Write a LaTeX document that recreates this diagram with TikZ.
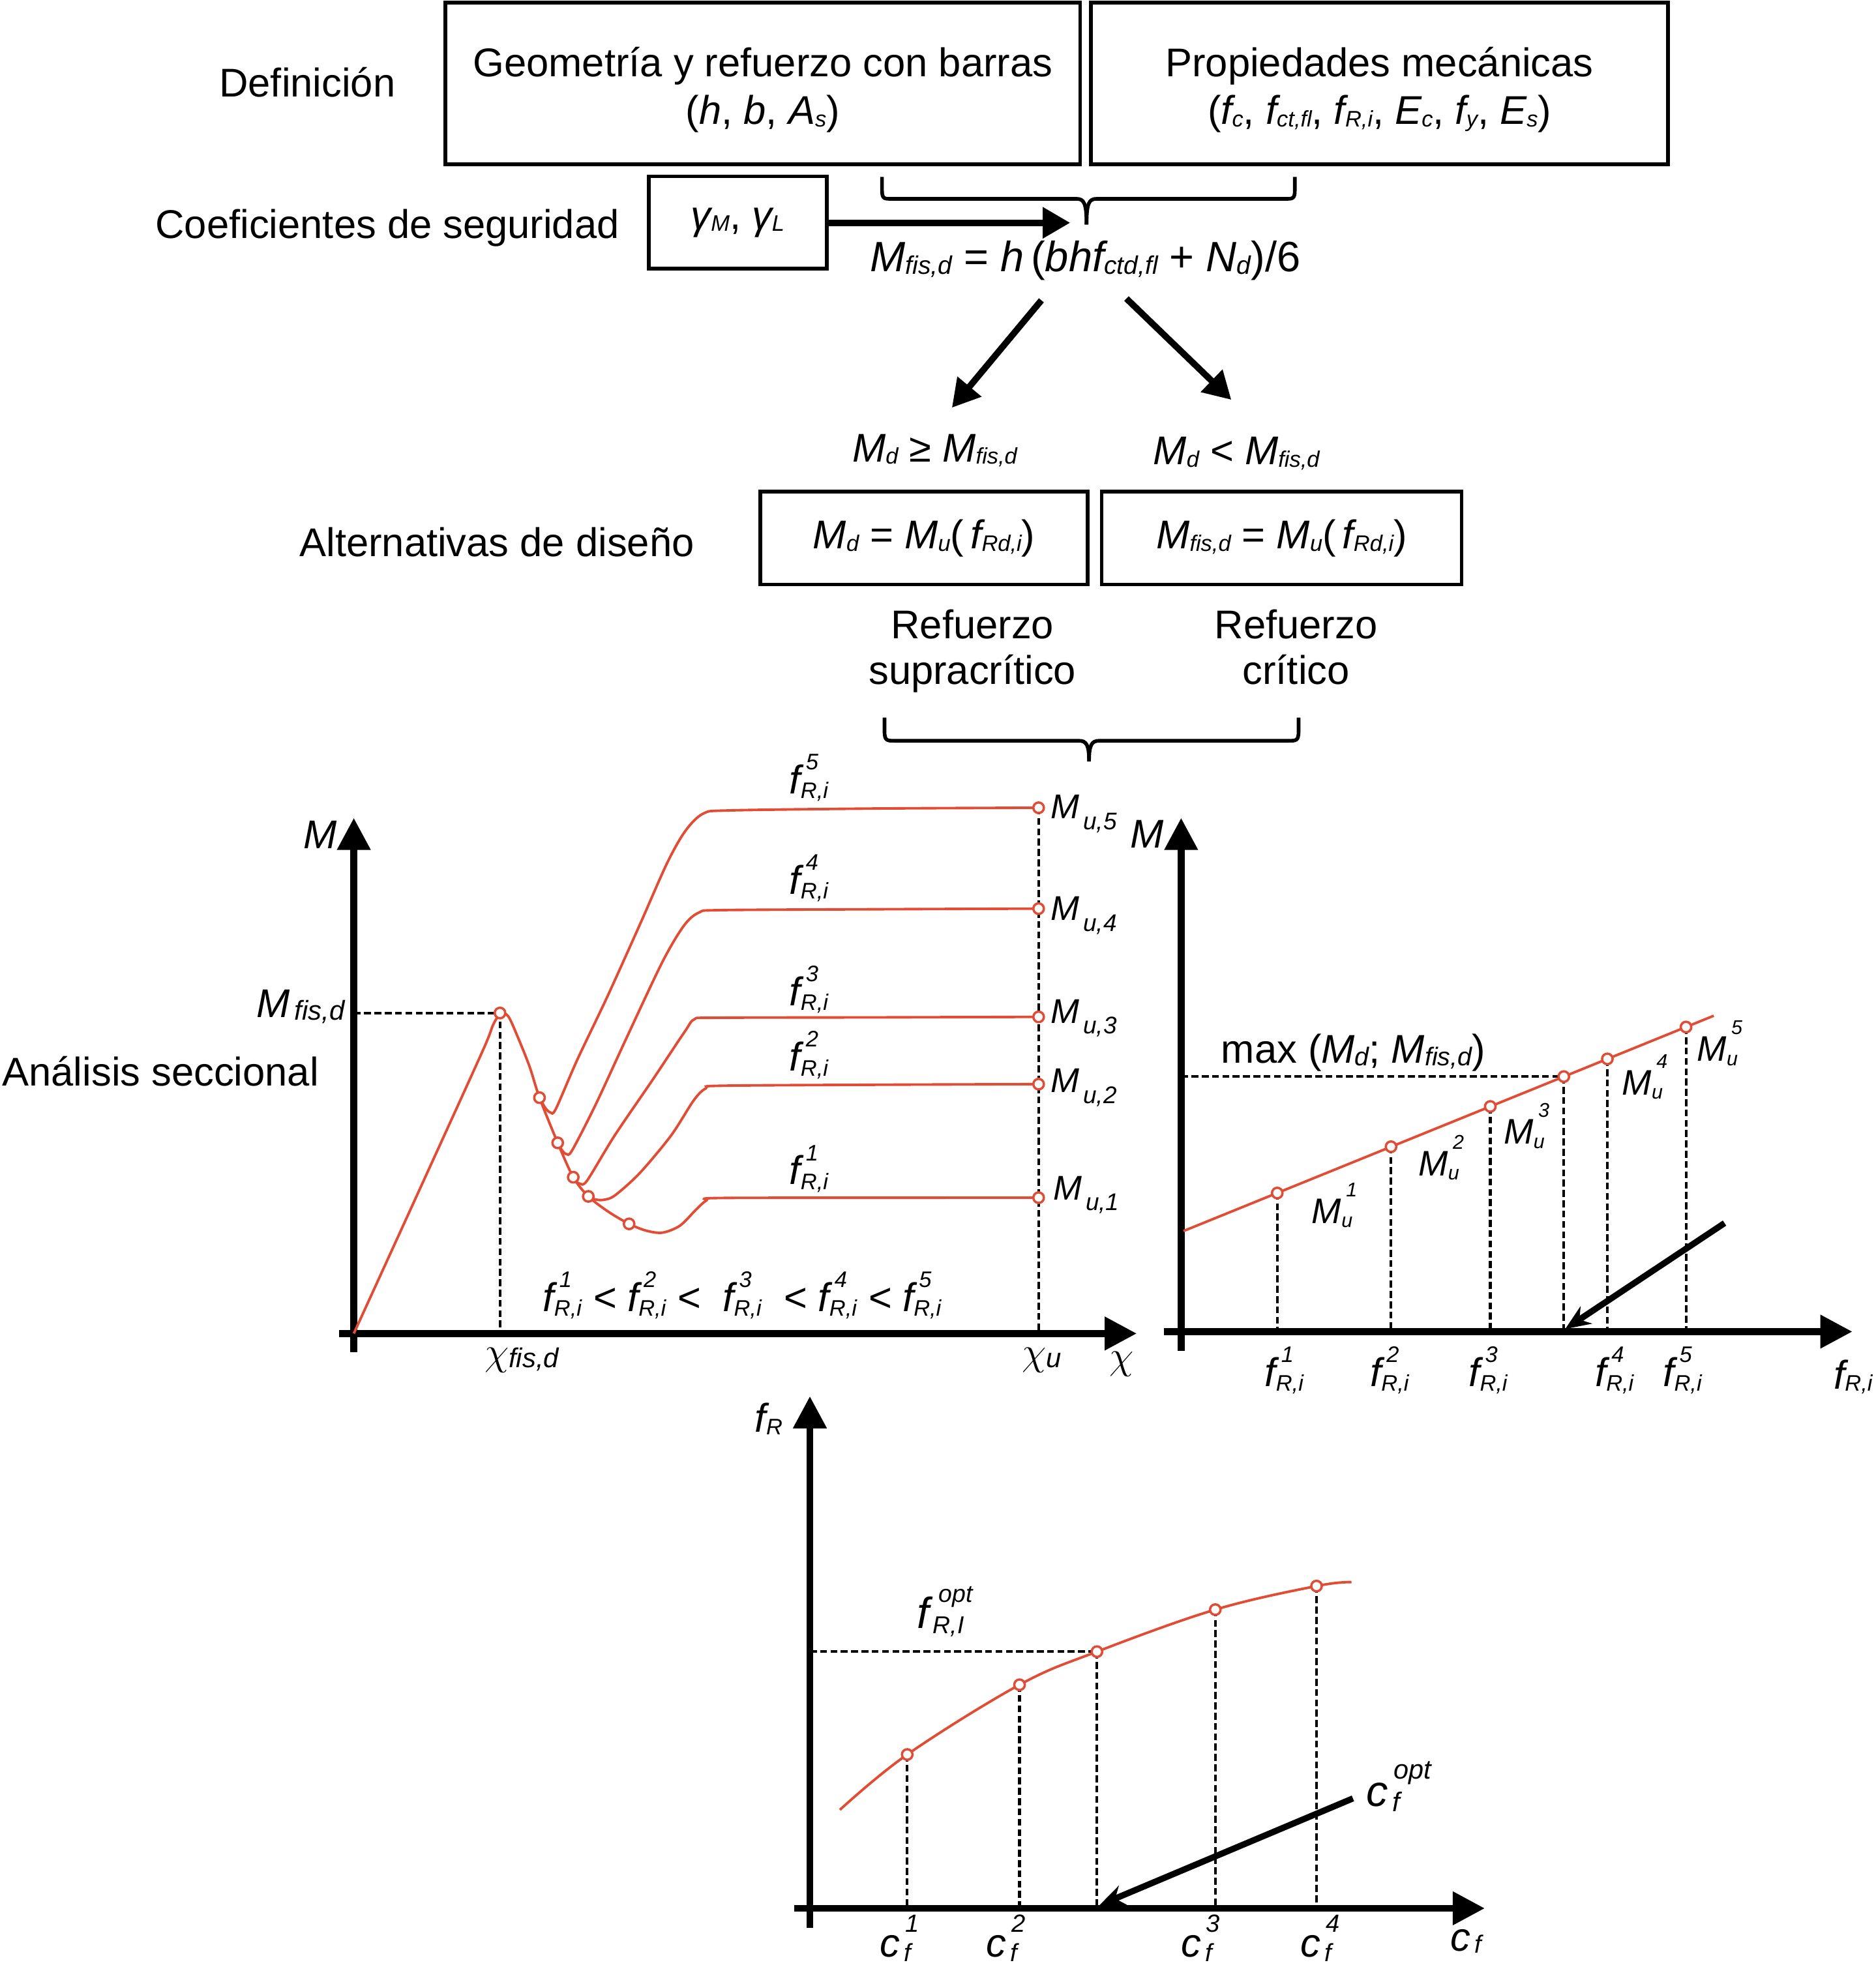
\documentclass[tikz,border=0pt]{standalone}
\usepackage{fontspec}
\setmainfont{Liberation Sans}
\usetikzlibrary{arrows.meta}
\definecolor{myred}{RGB}{226,76,52}
\makeatletter
\newcommand{\scrr}{56}
\newcommand{\scr}{\fontsize{\strip@pt\dimexpr\f@size pt*\scrr/100\relax}{1}\selectfont}
\makeatother
\newcommand{\ssp}[3][0.6em]{\ooalign{\raisebox{#1}{\kern0.13em\scr #2}\cr\raisebox{-0.12em}{\scr #3}\cr}}
\newcommand{\sbx}[1]{\raisebox{-0.06em}{\scr #1}}
\newcommand{\sbxl}[1]{\raisebox{-0.31em}{\fontsize{10.5}{12}\selectfont #1}}
\newcommand{\chisym}{{\fontsize{19}{20}\selectfont$\chi$}}
\tikzset{
  lbl/.style={inner sep=0pt, font=\fontsize{17.5}{21}\selectfont},
  mlbl/.style={inner sep=0pt, font=\fontsize{17.5}{21}\selectfont\itshape},
  clbl/.style={inner sep=0pt, font=\fontsize{17.5}{21}\selectfont\itshape\def\scrr{62}},
  smlbl/.style={inner sep=0pt, font=\fontsize{15}{18}\selectfont\itshape},
  mdlbl/.style={inner sep=0pt, font=\fontsize{15.5}{18}\selectfont\itshape},
  box/.style={draw, line width=1.6pt, inner sep=0pt, align=center, font=\fontsize{17.5}{20.8}\selectfont},
  ax/.style={line width=3pt, -{Triangle[width=14pt,length=14pt]}},
  dsh/.style={line width=1.2pt, dash pattern=on 3pt off 1.5pt},
  rc/.style={draw=myred, line width=1.1pt},
  pt/.style={circle, draw=myred, fill=white, line width=1pt, minimum size=4.6pt, inner sep=0pt},
  bigarr/.style={line width=2.8pt, -{Triangle[width=13pt,length=12pt]}},
  thinarr/.style={line width=2.7pt, -{Stealth[width=9pt,length=11pt]}},
  brace/.style={line width=1.6pt},
}
\begin{document}
\begin{tikzpicture}[x=0.019237cm,y=-0.019237cm]
\useasboundingbox (0,0) rectangle (1495,1568);

% ---------------- top part ----------------
\node[lbl,anchor=base] (def) at (245,77) {Definición};
\node[box,minimum width=9.734cm,minimum height=2.482cm] (geo) at (608,66.5)
  {\rule{0pt}{1.05em}Geometría y refuerzo con barras\\(\textit{h}, \textit{b}, \textit{A\sbx{s}})};
\node[box,minimum width=8.849cm,minimum height=2.482cm] (prop) at (1099.5,66.5)
  {\rule{0pt}{1.05em}Propiedades mecánicas\\(\textit{f\sbx{c}}, \textit{f\sbx{ct,fl}}, \textit{f\sbx{R,i}}, \textit{E\sbx{c}}, \textit{f\sbx{y}}, \textit{E\sbx{s}})};
\node[lbl,anchor=base] (coef) at (308.8,189.8) {Coeficientes de seguridad};
\node[box,minimum width=2.732cm,minimum height=1.414cm] (gam) at (588,177.3)
  {\textit{γ\sbx{M}}, \textit{γ\sbx{L}}};

% brace 1
\coordinate (b1l) at (703,141);
\coordinate (b1r) at (1032,141);
\coordinate (b1m) at (866,179);
\draw[brace] (b1l) -- (703,152) .. controls (703,158.5) and (705,158.5) .. (710,158.5)
  -- (858,158.5) .. controls (864,158.5) and (866,162) .. (b1m);
\draw[brace] (b1m) .. controls (866,162) and (868,158.5) .. (874,158.5)
  -- (1025,158.5) .. controls (1030,158.5) and (1032,158.5) .. (1032,152) -- (b1r);

\coordinate (gin) at (853,177.6);
\draw[bigarr] (gam.east |- gin) -- (gin);

\node[lbl,anchor=base,font=\fontsize{18.5}{21}\selectfont\def\scrr{60}] (form) at (865,216.5)
  {\textit{M\sbx{fis,d}} = \textit{h}\,(\textit{bhf\sbx{ctd,fl}} + \textit{N\sbx{d}})/6};

\coordinate (d1s) at (830,239.4);
\coordinate (d1e) at (758.7,325);
\coordinate (d2s) at (897.8,238);
\coordinate (d2e) at (981.4,318.7);
\draw[bigarr] (d1s) -- (d1e);
\draw[bigarr] (d2s) -- (d2e);

\node[lbl,anchor=base] (cge) at (745,368) {\textit{M\sbx{d}} ≥ \textit{M\sbx{fis,d}}};
\node[lbl,anchor=base] (clt) at (985.4,370.4) {\textit{M\sbx{d}} < \textit{M\sbx{fis,d}}};

\node[lbl] (alt) at (396,432) {Alternativas de diseño};
\node[box,minimum width=5.021cm,minimum height=1.424cm] (bmd) at (736.5,429)
  {\textit{M\sbx{d}} = \textit{M\sbx{u}}(\,\textit{f\sbx{Rd,i}})};
\node[box,minimum width=5.521cm,minimum height=1.424cm] (bmf) at (1021.5,429)
  {\textit{M\sbx{fis,d}} = \textit{M\sbx{u}}(\,\textit{f\sbx{Rd,i}})};

\node[lbl,align=center,font=\fontsize{17.5}{20}\selectfont] (ref1) at (775,519) {Refuerzo\\supracrítico};
\node[lbl,align=center,font=\fontsize{17.5}{20}\selectfont] (ref2) at (1033,516) {Refuerzo\\crítico};

% brace 2
\coordinate (b2l) at (705,572);
\coordinate (b2r) at (1035,572);
\coordinate (b2m) at (868,607);
\draw[brace] (b2l) -- (705,583) .. controls (705,590.5) and (707,590.5) .. (713,590.5)
  -- (860,590.5) .. controls (866,590.5) and (868,594) .. (b2m);
\draw[brace] (b2m) .. controls (868,594) and (870,590.5) .. (876,590.5)
  -- (1027,590.5) .. controls (1033,590.5) and (1035,590.5) .. (1035,583) -- (b2r);

% ---------------- graph 1 ----------------
\node[lbl,anchor=base] (anal) at (128,865.5) {Análisis seccional};
\coordinate (g1o) at (282,1063);
\coordinate (g1yb) at (282,1078);
\coordinate (g1yt) at (282,652);
\coordinate (g1xl) at (270,1063);
\coordinate (g1xr) at (906,1063);
\draw[ax] (g1yb) -- (g1yt);
\draw[ax] (g1xl) -- (g1xr);
\node[mlbl,anchor=base] (g1M) at (255,676.5) {M};
\node[mlbl,anchor=base east,font=\fontsize{17.5}{21}\selectfont\itshape\def\scrr{68}] (g1Mf) at (275,811) {M\sbx{\,fis,d}};

\coordinate (pk) at (398.5,807.5);
\coordinate (s5) at (430,875);
\coordinate (s4) at (444.5,911);
\coordinate (s3) at (456.9,938.4);
\coordinate (s2) at (468.9,953.7);
\coordinate (s1) at (501.4,975.6);
\coordinate (u5) at (827.8,643.9);
\coordinate (u4) at (827.8,724.3);
\coordinate (u3) at (827.8,810.6);
\coordinate (u2) at (827.8,864.2);
\coordinate (u1) at (827.8,954.7);

\draw[dsh] (g1o |- pk) -- (pk) -- (pk |- g1o);
\draw[dsh] (u5) -- (u5 |- g1o);

\draw[rc] plot[smooth,tension=0.5] coordinates {(282,1063) (340,936) (385,837) (393,817) (399,808) (405,810) (412,825) (422,850) (430,875) (444.5,911) (456.9,938.4) (468.9,953.7) (485,966) (501.4,975.6) (515,981) (528,982.6) (542,977) (555,964) (563,957) (572,955) (700,954.8) (827.8,954.7)};
\draw[rc] plot[smooth,tension=0.5] coordinates {(430,875) (434.5,883) (438.7,886.8) (443,884) (460,845) (484,794.6) (510,737) (531.7,688) (546.3,662.3) (560.8,648.4) (582.7,646) (700,644.5) (827.8,643.9)};
\draw[rc] plot[smooth,tension=0.5] coordinates {(444.5,911) (448,917) (451.4,919.9) (456,917) (475,880) (500,826) (528,766.7) (545,738) (557.2,727.4) (575,725.5) (700,724.8) (827.8,724.3)};
\draw[rc] plot[smooth,tension=0.5] coordinates {(456.9,938.4) (459.5,942) (462.4,943.6) (468,941) (490,905) (520,861) (546,822) (553.5,812.5) (570,811.3) (700,811) (827.8,810.6)};
\draw[rc] plot[smooth,tension=0.5] coordinates {(468.9,953.7) (474,956) (480.6,956.5) (490,953) (510,935) (535,905) (553,877) (562.7,867.5) (575,865.5) (700,864.7) (827.8,864.2)};

\foreach \p in {pk,s5,s4,s3,s2,s1,u5,u4,u3,u2,u1}{\node[pt] (c\p) at (\p) {};}

\node[mlbl,anchor=base] (lf5) at (644.7,632.7) {f\ssp{5}{R,i}};
\node[mlbl,anchor=base] (lf4) at (644.7,712.8) {f\ssp{4}{R,i}};
\node[mlbl,anchor=base] (lf3) at (644.7,801.5) {f\ssp{3}{R,i}};
\node[mlbl,anchor=base] (lf2) at (644.7,853.8) {f\ssp{2}{R,i}};
\node[mlbl,anchor=base] (lf1) at (644.7,944.3) {f\ssp{1}{R,i}};

\node[smlbl,anchor=base west] (lu5) at (837,652.6) {M\sbxl{\,u,5}};
\node[smlbl,anchor=base west] (lu4) at (837,733.7) {M\sbxl{\,u,4}};
\node[smlbl,anchor=base west] (lu3) at (837,815.5) {M\sbxl{\,u,3}};
\node[smlbl,anchor=base west] (lu2) at (837,871) {M\sbxl{\,u,2}};
\node[smlbl,anchor=base west] (lu1) at (839,956.5) {M\sbxl{\,u,1}};

\node[mlbl,anchor=base] (ineq) at (591.5,1045.2)
  {f\ssp{1}{R,i} < f\ssp{2}{R,i} < \ f\ssp{3}{R,i} \ < f\ssp{4}{R,i} < f\ssp{5}{R,i}};
\node[mlbl,anchor=base,font=\fontsize{17.5}{21}\selectfont\itshape\def\scrr{68}] (xf) at (415.8,1088) {\chisym\sbx{fis,d}};
\node[mlbl,anchor=base,font=\fontsize{17.5}{21}\selectfont\itshape\def\scrr{68}] (xu) at (830.3,1088) {\chisym\sbx{u}};
\node[mlbl,anchor=base] (xx) at (894,1091) {\chisym};

% ---------------- graph 2 ----------------
\coordinate (g2yb) at (941.4,1077);
\coordinate (g2yt) at (941.4,652);
\coordinate (g2xl) at (927.6,1061.5);
\coordinate (g2xr) at (1476.4,1061.5);
\coordinate (m1) at (1018,951);
\coordinate (m2) at (1108.7,914.1);
\coordinate (m3) at (1187.8,882);
\coordinate (m4) at (1246.4,858.2);
\coordinate (m5) at (1281.1,844.1);
\coordinate (m6) at (1343.8,818.7);
\coordinate (r2a) at (943.3,981.3);
\coordinate (r2b) at (1365.9,809.7);
\foreach \p in {m1,m2,m3,m4,m5,m6}{\draw[dsh] (\p) -- (\p |- g2xl);}
\draw[dsh] (g2yt |- m4) -- (m4);
\draw[ax] (g2yb) -- (g2yt);
\draw[ax] (g2xl) -- (g2xr);
\draw[rc] (r2a) -- (r2b);
\foreach \p in {m1,m2,m3,m4,m5,m6}{\node[pt] (c\p) at (\p) {};}
\node[mlbl,anchor=base] (g2M) at (914,676) {M};
\node[lbl,anchor=base west,font=\fontsize{17.5}{21}\selectfont\def\scrr{64}] (mx) at (973,847.5) {max (\textit{M\sbx{d}}; \textit{M\sbx{fis,d}})};
\node[mdlbl,anchor=base] (mu1) at (1063.7,975) {M\ssp[0.75em]{1}{u}};
\node[mdlbl,anchor=base] (mu2) at (1148.7,937.2) {M\ssp[0.75em]{2}{u}};
\node[mdlbl,anchor=base] (mu3) at (1216.8,912) {M\ssp[0.75em]{3}{u}};
\node[mdlbl,anchor=base] (mu4) at (1311,872.7) {M\ssp[0.75em]{4}{u}};
\node[mdlbl,anchor=base] (mu5) at (1370.7,845.9) {M\ssp[0.75em]{5}{u}};
\coordinate (a2s) at (1374.5,975);
\coordinate (a2e) at (1247.5,1059.4);
\draw[thinarr] (a2s) -- (a2e);
\node[mlbl,anchor=base] (xf1) at (1023.5,1105) {f\ssp{1}{R,i}};
\node[mlbl,anchor=base] (xf2) at (1107.5,1105) {f\ssp{2}{R,i}};
\node[mlbl,anchor=base] (xf3) at (1186,1105) {f\ssp{3}{R,i}};
\node[mlbl,anchor=base] (xf4) at (1286.7,1105) {f\ssp{4}{R,i}};
\node[mlbl,anchor=base] (xf5) at (1340.9,1105) {f\ssp{5}{R,i}};
\node[mlbl,anchor=base] (xfr) at (1477,1107) {f\sbx{R,i}};

% ---------------- graph 3 ----------------
\coordinate (g3yb) at (645.5,1537);
\coordinate (g3yt) at (645.5,1113);
\coordinate (g3xl) at (632.8,1521.2);
\coordinate (g3xr) at (1183.4,1521.2);
\coordinate (n1) at (723.1,1398.6);
\coordinate (n2) at (812.6,1343);
\coordinate (n3) at (874.3,1316.6);
\coordinate (n4) at (968.6,1283.1);
\coordinate (n5) at (1049.3,1264.3);
\foreach \p in {n1,n2,n3,n4,n5}{\draw[dsh] (\p) -- (\p |- g3xl);}
\draw[dsh] (g3yt |- n3) -- (n3);
\draw[ax] (g3yb) -- (g3yt);
\draw[ax] (g3xl) -- (g3xr);
\draw[rc] plot[smooth,tension=0.6] coordinates {(669.4,1442.7) (723.1,1398.6) (812.6,1343) (874.3,1316.6) (968.6,1283.1) (1049.3,1264.3) (1077.2,1261.2)};
\foreach \p in {n1,n2,n3,n4,n5}{\node[pt] (c\p) at (\p) {};}
\node[mlbl,anchor=base] (fR) at (612.7,1141.8) {f\sbx{R}};
\node[mlbl,anchor=base,font=\fontsize{19}{21}\selectfont\itshape] (fopt) at (753,1298) {f\ssp{\,opt}{\,R,I}};
\coordinate (a3s) at (1078.3,1433.6);
\coordinate (a3e) at (876.3,1518.7);
\draw[thinarr] (a3s) -- (a3e);
\node[clbl,anchor=base,font=\fontsize{19}{21}\selectfont\itshape\def\scrr{62}] (copt) at (1115,1439.7) {c\ssp[0.62em]{opt}{\,f}};
\node[clbl,anchor=base] (cf1) at (717,1559.8) {c\ssp[0.62em]{1}{\,f}};
\node[clbl,anchor=base] (cf2) at (801.6,1559.8) {c\ssp[0.62em]{2}{\,f}};
\node[clbl,anchor=base] (cf3) at (956.8,1559.8) {c\ssp[0.62em]{3}{\,f}};
\node[clbl,anchor=base] (cf4) at (1052.3,1559.8) {c\ssp[0.62em]{4}{\,f}};
\node[clbl,anchor=base] (cfx) at (1168.7,1555) {c\sbx{\,f}};
\end{tikzpicture}
\end{document}
